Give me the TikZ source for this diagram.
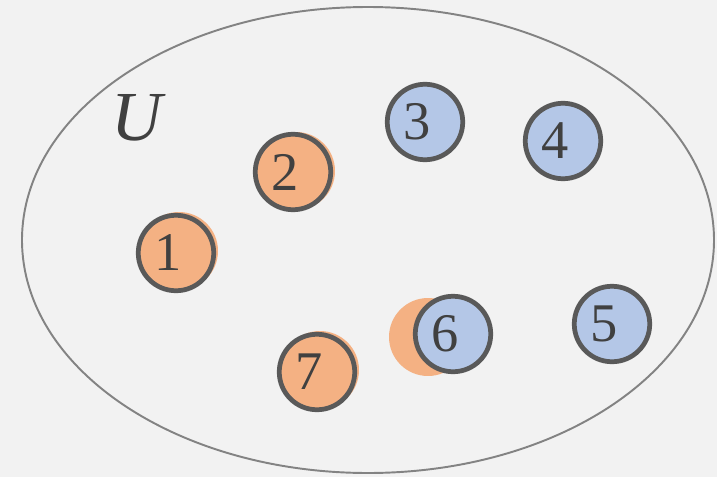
\documentclass[tikz,border=0pt]{standalone}
\usepackage{fontspec}
\setmainfont{Liberation Serif}
\usepackage{tikz}
\definecolor{bg}{HTML}{F2F2F2}
\definecolor{peach}{HTML}{F4B183}
\definecolor{sky}{HTML}{B4C7E7}
\definecolor{rim}{HTML}{595959}
\definecolor{ink}{HTML}{404040}

\begin{document}
\begin{tikzpicture}[x=0.02cm,y=-0.02cm,
  elem/.style={circle,draw=rim,line width=2.7pt,minimum size=1.51cm,inner sep=0pt},
  num/.style={xshift=-4.5pt,inner sep=0pt,text=ink,font=\fontsize{31}{31}\selectfont},
  backing/.style={circle,fill=peach,minimum size=1.56cm,inner sep=0pt}]
\fill[bg] (0,0) rectangle (717,477);
\useasboundingbox (0,0) rectangle (717,477);
\draw[rim!75,line width=1.1pt] (368,240) ellipse (346 and 233);
\node[text=ink,font=\fontsize{40}{40}\selectfont\itshape] (uni) at (137,118) {U};
% orange backings sit a little off the rings
\foreach \n/\x/\y in {1/179/251,2/296/171,7/320/370,6/428/337}{
  \node[backing] (b\n) at (\x,\y) {};
}
\foreach \n/\x/\y in {1/176/253,2/293/172,7/317/372}{
  \node[elem,fill=peach,label={[num]center:\n}] (e\n) at (\x,\y) {};
}
\foreach \n/\x/\y in {3/425/122,4/563/141,5/612/324,6/453/334}{
  \node[elem,fill=sky,label={[num]center:\n}] (e\n) at (\x,\y) {};
}
\end{tikzpicture}
\end{document}
